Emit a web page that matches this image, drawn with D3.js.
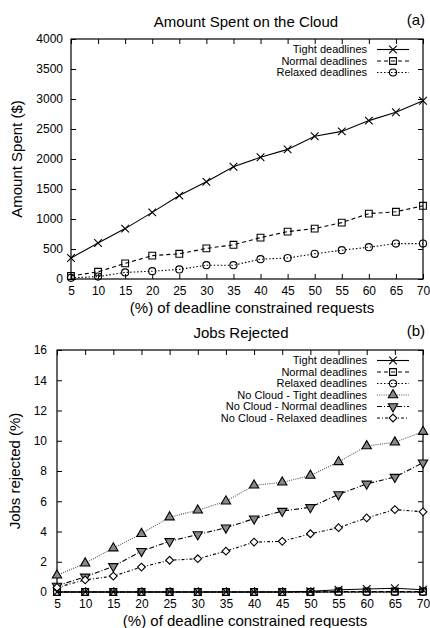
<!DOCTYPE html>
<html>
<head>
<meta charset="utf-8">
<script src="https://cdn.jsdelivr.net/npm/d3@7"></script>
<style>
  body { margin: 0; background: #fff; }
  svg { font-family: "Liberation Sans", Arial, sans-serif; }
</style>
</head>
<body>
<div id="chart"></div>
<script>
// x values (% of deadline constrained requests)
const xVals = [5, 10, 15, 20, 25, 30, 35, 40, 45, 50, 55, 60, 65, 70];

// (a) amount spent on the cloud ($)
const spentTight   = [350, 600, 840, 1110, 1390, 1620, 1870, 2030, 2160, 2380, 2460, 2640, 2780, 2970];
const spentNormal  = [50, 120, 260, 390, 420, 510, 570, 690, 790, 840, 940, 1090, 1120, 1220];
const spentRelaxed = [20, 40, 110, 130, 160, 230, 230, 330, 350, 420, 480, 530, 590, 590];
const spentTicks   = [0, 500, 1000, 1500, 2000, 2500, 3000, 3500, 4000];

// (b) jobs rejected (%)
const rejTight        = [0, 0, 0, 0, 0, 0, 0, 0, 0, 0.05, 0.15, 0.2, 0.25, 0.15];
const rejNormal       = [0, 0, 0, 0, 0, 0, 0, 0, 0, 0, 0.03, 0.03, 0.03, 0.03];
const rejRelaxed      = [0, 0, 0, 0, 0, 0, 0, 0, 0, 0, 0, 0, 0, 0];
const noCloudTight    = [1.1, 1.9, 2.9, 3.85, 4.95, 5.4, 6.0, 7.05, 7.25, 7.7, 8.6, 9.65, 9.9, 10.6];
const noCloudNormal   = [0.4, 1.0, 1.7, 2.7, 3.35, 3.8, 4.25, 4.85, 5.35, 5.6, 6.45, 7.15, 7.6, 8.55];
const noCloudRelaxed  = [0.3, 0.8, 1.05, 1.65, 2.1, 2.2, 2.7, 3.3, 3.35, 3.85, 4.25, 4.9, 5.45, 5.3];
const rejTicks        = [0, 2, 4, 6, 8, 10, 12, 14, 16];

const svg = d3.select("#chart").append("svg")
    .attr("width", 430)
    .attr("height", 628);

// marker shapes
const markers = {
    times:   d3.symbol(d3.symbolTimes, 40),
    square:  d3.symbol(d3.symbolSquare, 46),
    circle:  d3.symbol(d3.symbolCircle, 40),
    tri:     d3.symbol(d3.symbolTriangle, 38),
    diamond: d3.symbol(d3.symbolSquare, 30)
};

function drawPanel(p) {
    const x = d3.scaleLinear().domain([5, 70]).range([p.left, p.right]);
    const y = d3.scaleLinear().domain([0, p.ymax]).range([p.bottom, p.top]);
    const g = svg.append("g");

    // title + panel letter
    g.append("text").attr("x", p.titleX).attr("y", p.top - 12)
        .attr("text-anchor", "middle").attr("font-size", "15px").text(p.title);
    g.append("text").attr("x", 425).attr("y", p.top - 14)
        .attr("text-anchor", "end").attr("font-size", "15px").text(p.letter);

    // axes (ticks inward, mirrored like gnuplot)
    const tk = 5;
    g.append("g").attr("transform", `translate(0,${p.bottom})`)
        .call(d3.axisBottom(x).tickValues(xVals).tickSize(-tk).tickPadding(7))
        .call(a => a.select(".domain").remove());
    g.append("g").attr("transform", `translate(0,${p.top})`)
        .call(d3.axisTop(x).tickValues(xVals).tickSize(-tk).tickFormat(""))
        .call(a => a.select(".domain").remove());
    g.append("g").attr("transform", `translate(${p.left},0)`)
        .call(d3.axisLeft(y).tickValues(p.ticks).tickSize(-tk).tickPadding(p.padY).tickFormat(d3.format("d")))
        .call(a => a.select(".domain").remove());
    g.append("g").attr("transform", `translate(${p.right},0)`)
        .call(d3.axisRight(y).tickValues(p.ticks).tickSize(-tk).tickFormat(""))
        .call(a => a.select(".domain").remove());
    g.selectAll(".tick text").attr("font-size", "12px").attr("fill", "#000")
        .attr("font-family", "Liberation Sans, Arial, sans-serif");
    g.selectAll(".tick line").attr("stroke", "#000");

    g.append("rect").attr("x", p.left).attr("y", p.top)
        .attr("width", p.right - p.left).attr("height", p.bottom - p.top)
        .attr("fill", "none").attr("stroke", "#000").attr("stroke-width", 1.2);

    // axis labels
    g.append("text").attr("x", (p.left + p.right) / 2 + 5).attr("y", p.bottom + 34)
        .attr("text-anchor", "middle").attr("font-size", "15px")
        .text("(%) of deadline constrained requests");
    g.append("text")
        .attr("transform", `translate(${p.ylabX},${(p.top + p.bottom) / 2}) rotate(-90)`)
        .attr("text-anchor", "middle").attr("font-size", "15px").text(p.ylabel);

    const line = d3.line().x((d, i) => x(xVals[i])).y(d => y(d));

    p.series.forEach((s, k) => {
        g.append("path").datum(s.values)
            .attr("fill", "none").attr("stroke", s.stroke)
            .attr("stroke-width", 1.1)
            .attr("stroke-dasharray", s.dash)
            .attr("d", line);
        g.selectAll(null).data(s.values).enter().append("path")
            .attr("transform", (d, i) => `translate(${x(xVals[i])},${y(d)}) rotate(${s.rot || 0})`)
            .attr("d", markers[s.marker]())
            .attr("fill", s.fill).attr("stroke", "#000").attr("stroke-width", 1.1);

        // legend entry
        const ly = p.top + 10.5 + k * 11.5;
        g.append("text").attr("x", 367).attr("y", ly).attr("dy", "0.35em")
            .attr("text-anchor", "end").attr("font-size", "11px").text(s.name);
        g.append("line").attr("x1", 377).attr("x2", 409).attr("y1", ly).attr("y2", ly)
            .attr("stroke", s.stroke).attr("stroke-width", 1.1)
            .attr("stroke-dasharray", s.dash);
        g.append("path").attr("transform", `translate(393,${ly}) rotate(${s.rot || 0})`)
            .attr("d", markers[s.marker]())
            .attr("fill", s.fill).attr("stroke", "#000").attr("stroke-width", 1.1);
    });
}

drawPanel({
    title: "Amount Spent on the Cloud", letter: "(a)", titleX: 246,
    left: 71, right: 423, top: 39, bottom: 279, ymax: 4000, ticks: spentTicks, padY: 8,
    ylabel: "Amount Spent ($)", ylabX: 22,
    series: [
        { name: "Tight deadlines", values: spentTight, marker: "times", fill: "none", stroke: "#000", dash: null },
        { name: "Normal deadlines", values: spentNormal, marker: "square", fill: "none", stroke: "#000", dash: "4,3" },
        { name: "Relaxed deadlines", values: spentRelaxed, marker: "circle", fill: "none", stroke: "#000", dash: "1.5,2" }
    ]
});

drawPanel({
    title: "Jobs Rejected", letter: "(b)", titleX: 241,
    left: 57, right: 423, top: 350, bottom: 592, ymax: 16, ticks: rejTicks, padY: 10,
    ylabel: "Jobs rejected (%)", ylabX: 20,
    series: [
        { name: "Tight deadlines", values: rejTight, marker: "times", fill: "none", stroke: "#000", dash: null },
        { name: "Normal deadlines", values: rejNormal, marker: "square", fill: "none", stroke: "#000", dash: "4,3" },
        { name: "Relaxed deadlines", values: rejRelaxed, marker: "circle", fill: "none", stroke: "#000", dash: "1.5,2" },
        { name: "No Cloud - Tight deadlines", values: noCloudTight, marker: "tri", fill: "#888", stroke: "#555", dash: "1,1.2" },
        { name: "No Cloud - Normal deadlines", values: noCloudNormal, marker: "tri", rot: 180, fill: "#888", stroke: "#000", dash: "5,2,1,2" },
        { name: "No Cloud - Relaxed deadlines", values: noCloudRelaxed, marker: "diamond", rot: 45, fill: "#fff", stroke: "#000", dash: "3,2,1,2" }
    ]
});
</script>
</body>
</html>
